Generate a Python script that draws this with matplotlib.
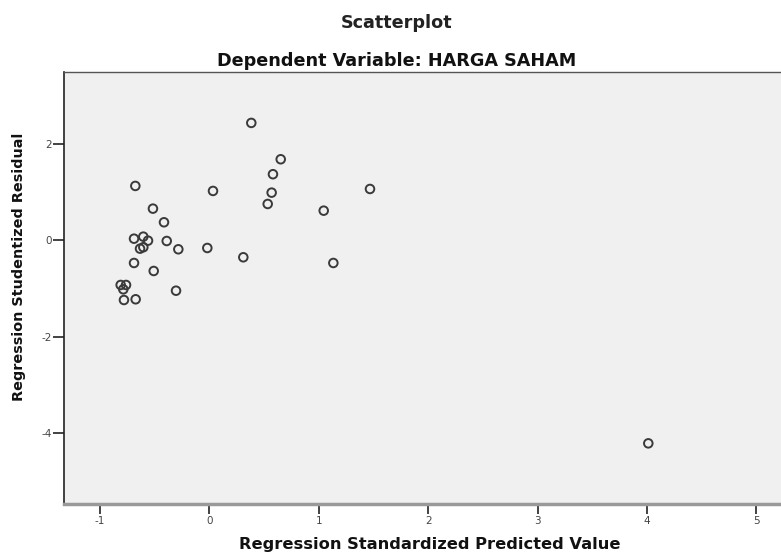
import matplotlib
matplotlib.use("Agg")
import matplotlib.pyplot as plt

# Data
predicted = [0.383, 0.652, 0.581, 0.569, 0.533, 1.468, 0.033, -0.677, -0.516, -0.415,
             1.045, -0.689, -0.604, -0.561, -0.634, -0.604, -0.390, -0.284, -0.019, 0.310,
             1.133, -0.689, -0.509, -0.811, -0.762, -0.787, -0.781, -0.674, -0.305, 4.012]
residual = [2.434, 1.680, 1.370, 0.988, 0.753, 1.064, 1.023, 1.127, 0.656, 0.373,
            0.614, 0.033, 0.075, -0.008, -0.174, -0.145, -0.015, -0.187, -0.160, -0.353,
            -0.471, -0.471, -0.637, -0.927, -0.927, -1.017, -1.239, -1.224, -1.046, -4.212]
x_ticks = [-1, 0, 1, 2, 3, 4, 5]
y_ticks = [-4, -2, 0, 2]

title1 = "Scatterplot"
title2 = "Dependent Variable: HARGA SAHAM"
x_label = "Regression Standardized Predicted Value"
y_label = "Regression Studentized Residual"

plt.rcParams['font.family'] = ['DejaVu Sans']

fig = plt.figure(figsize=(7.81, 5.55), dpi=100)
ax = fig.add_axes([64/781, 51/555, 1 - 64/781, (504-72)/555])
ax.set_facecolor('#F0F0F0')

ax.scatter(predicted, residual, s=38, facecolors='none', edgecolors='#3a3a3a', linewidths=1.4, zorder=3)

ax.set_xlim(-1.329, 5.225)
ax.set_ylim(-5.47, 3.49)
ax.set_xticks(x_ticks)
ax.set_yticks(y_ticks)
ax.set_xticklabels([str(v) for v in x_ticks])
ax.set_yticklabels([str(v) for v in y_ticks])
ax.tick_params(axis='x', direction='out', length=7, width=1.2, color='#222222',
               labelsize=7.5, labelcolor='#444444', pad=1.5)
ax.tick_params(axis='y', direction='out', length=8, width=1.2, color='#222222',
               labelsize=7.5, labelcolor='#444444', pad=0.5)

ax.spines['right'].set_visible(False)
ax.spines['left'].set_color('#222222')
ax.spines['left'].set_linewidth(1.2)
ax.spines['top'].set_color('#555555')
ax.spines['top'].set_linewidth(1.0)
ax.spines['bottom'].set_color('#999999')
ax.spines['bottom'].set_linewidth(2.5)

ax.set_xlabel(x_label, fontsize=11.7, fontweight='bold', color='#111111', va='center')
ax.set_ylabel(y_label, fontsize=10.4, fontweight='bold', color='#111111', va='center')
ax.xaxis.set_label_coords((430 - 64) / 717, -(545 - 504) / 432)
ax.yaxis.set_label_coords(-(64 - 19) / 717, (504 - 267) / 432)

fig.text(397/781, 1 - 23/555, title1, ha='center', va='center', fontsize=12.7, fontweight='bold', color='#222222')
fig.text(397/781, 1 - 61/555, title2, ha='center', va='center', fontsize=12.7, fontweight='bold', color='#111111')

fig.savefig('out.png', dpi=100)
